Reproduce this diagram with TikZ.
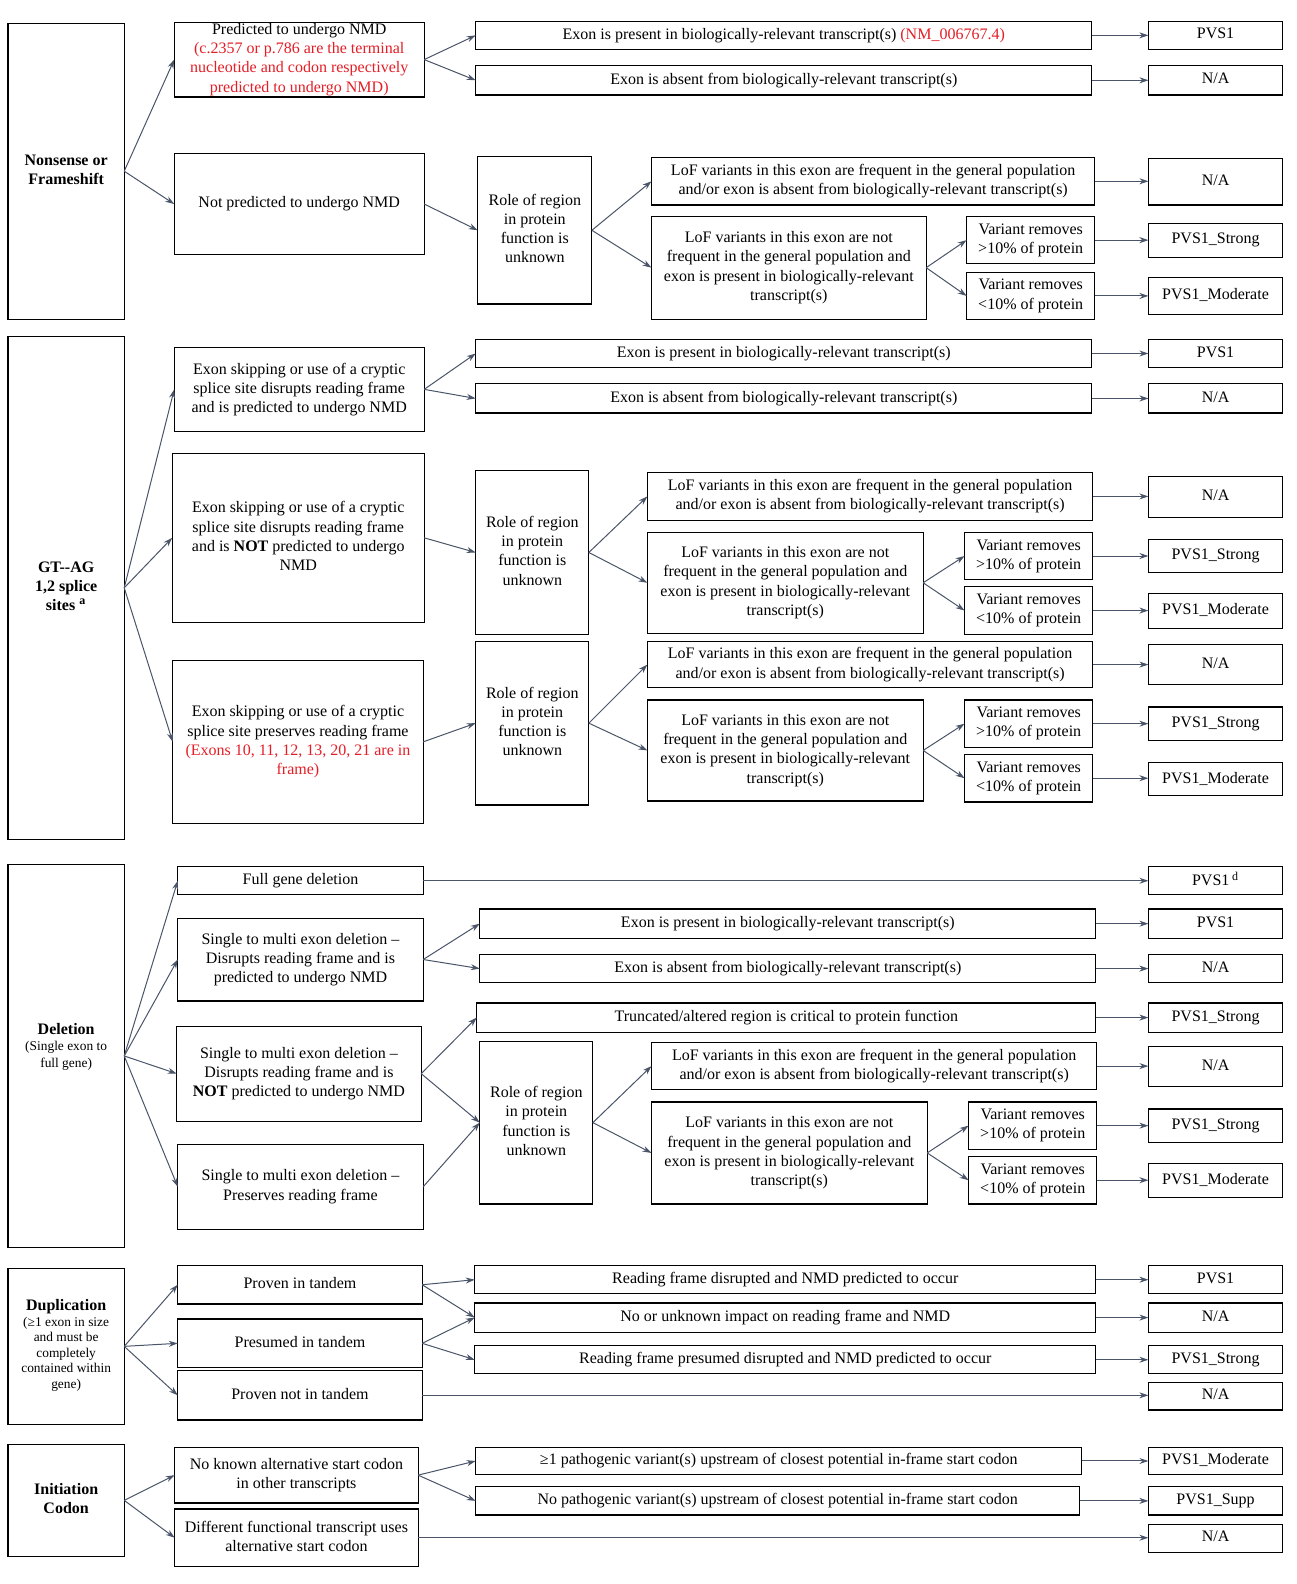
\documentclass[tikz,border=0pt]{standalone}
\usepackage{fontspec}
\setmainfont{Liberation Serif}
\usetikzlibrary{arrows.meta,calc}
\definecolor{arrowcol}{RGB}{75,85,105}
\definecolor{redtxt}{RGB}{228,30,38}
\newcommand\rt[1]{\textcolor{redtxt}{#1}}
\newcommand\mystrut{\rule[-0.22em]{0pt}{0.89em}}
\newcommand\mkbox[7][]{%
  \pgfmathsetmacro\bxw{(#5-#3)*0.505}%
  \pgfmathsetmacro\bxh{(#6-#4)*0.505}%
  \node[box,minimum width=\bxw pt,minimum height=\bxh pt,#1] (#2) at ({(#3+#5)/2},{(#4+#6)/2}) {\mystrut#7\mystrut};}
\begin{document}
\begin{tikzpicture}[x=0.505pt,y=-0.505pt,
  box/.style={draw=black,line width=0.6pt,inner sep=0pt,outer sep=0pt,align=center,font=\fontsize{8}{9.6}\selectfont},
  headbox/.style={font=\bfseries\fontsize{8}{9.6}\selectfont},
  lbl/.style={inner sep=0pt,align=center},
  conn/.style={draw=arrowcol,line width=0.5pt,-{Stealth[length=4.5pt,width=3pt]}}]
\fill[white] (0,0) rectangle (1283.2,1568.3);
\useasboundingbox (0,0) rectangle (1283.2,1568.3);
% ---------------- Section 1
\mkbox[headbox]{s1}{8}{23}{123}{316}{Nonsense or\\Frameshift}
\mkbox{b1}{172.5}{22}{420}{96}{Predicted to undergo NMD\\\rt{(c.2357 or p.786 are the terminal}\\\rt{nucleotide and codon respectively}\\\rt{predicted to undergo NMD)}}
\mkbox{b2}{172.5}{152}{420}{252}{Not predicted to undergo NMD}
\mkbox{c1}{471}{21}{1081}{49}{Exon is present in biologically-relevant transcript(s) \rt{(NM\_006767.4)}}
\mkbox{c2}{471}{65}{1081}{94}{Exon is absent from biologically-relevant transcript(s)}
\mkbox{p1a}{1137}{21}{1270}{49}{PVS1}
\mkbox{p1b}{1137}{65}{1270}{94}{N/A}
\mkbox{r1}{473}{155}{586}{301}{Role of region\\in protein\\function is\\unknown}
\mkbox{l1f}{645}{156}{1084}{203}{LoF variants in this exon are frequent in the general population\\and/or exon is absent from biologically-relevant transcript(s)}
\mkbox{l1n}{645}{214}{917}{316}{LoF variants in this exon are not\\frequent in the general population and\\exon is present in biologically-relevant\\transcript(s)}
\mkbox{v1a}{957}{214.5}{1084}{261}{Variant removes\\>10\% of protein}
\mkbox{v1b}{957}{270}{1084}{316}{Variant removes\\<10\% of protein}
\mkbox{p1c}{1137}{157}{1270}{203}{N/A}
\mkbox{p1d}{1137}{221}{1270}{255}{PVS1\_Strong}
\mkbox{p1e}{1137}{275}{1270}{311}{PVS1\_Moderate}
% ---------------- Section 2
\mkbox[headbox]{s2}{8}{333}{123}{831}{GT-{}-AG\\1,2 splice\\sites \textsuperscript{a}}
\mkbox{d1}{172.5}{344}{420}{427}{Exon skipping or use of a cryptic\\splice site disrupts reading frame\\and is predicted to undergo NMD}
\mkbox{d2}{170.5}{449}{420}{616}{Exon skipping or use of a cryptic\\splice site disrupts reading frame\\and is \textbf{NOT} predicted to undergo\\NMD}
\mkbox{d3}{171}{654}{419}{815}{Exon skipping or use of a cryptic\\splice site preserves reading frame\\\rt{(Exons 10, 11, 12, 13, 20, 21 are in}\\\rt{frame)}}
\mkbox{e1}{471}{336}{1081}{364}{Exon is present in biologically-relevant transcript(s)}
\mkbox{e1p}{1137}{336}{1270}{364}{PVS1}
\mkbox{e2}{471}{380}{1081}{409}{Exon is absent from biologically-relevant transcript(s)}
\mkbox{e2p}{1137}{380}{1270}{409}{N/A}
\mkbox{r2}{471}{466}{583}{628}{Role of region\\in protein\\function is\\unknown}
\mkbox{l2f}{641}{468}{1082}{515}{LoF variants in this exon are frequent in the general population\\and/or exon is absent from biologically-relevant transcript(s)}
\mkbox{l2fp}{1137}{472}{1270}{512}{N/A}
\mkbox{l2n}{641}{527}{914}{627}{LoF variants in this exon are not\\frequent in the general population and\\exon is present in biologically-relevant\\transcript(s)}
\mkbox{v2a}{955}{527}{1082}{574}{Variant removes\\>10\% of protein}
\mkbox{v2b}{955}{581}{1082}{628}{Variant removes\\<10\% of protein}
\mkbox{v2ap}{1137}{534}{1270}{567}{PVS1\_Strong}
\mkbox{v2bp}{1137}{588}{1270}{622}{PVS1\_Moderate}
\mkbox{r3}{471}{635}{583}{797}{Role of region\\in protein\\function is\\unknown}
\mkbox{l3f}{641}{635}{1082}{681}{LoF variants in this exon are frequent in the general population\\and/or exon is absent from biologically-relevant transcript(s)}
\mkbox{l3fp}{1137}{638}{1270}{678}{N/A}
\mkbox{l3n}{641}{693}{914}{793}{LoF variants in this exon are not\\frequent in the general population and\\exon is present in biologically-relevant\\transcript(s)}
\mkbox{v3a}{955}{693}{1082}{740}{Variant removes\\>10\% of protein}
\mkbox{v3b}{955}{747}{1082}{794}{Variant removes\\<10\% of protein}
\mkbox{v3ap}{1137}{700}{1270}{733}{PVS1\_Strong}
\mkbox{v3bp}{1137}{755}{1270}{788}{PVS1\_Moderate}
% ---------------- Section 3
\mkbox{s3}{8}{856}{123}{1235}{}
\node[lbl,font=\fontsize{6.7}{8.3}\selectfont] (s3t) at ([yshift=4.6pt]s3.center) {{\bfseries\fontsize{8}{8.3}\selectfont Deletion}\\(Single exon to\\full gene)};
\mkbox{f1}{176}{858}{419}{886}{Full gene deletion}
\mkbox{f2}{176}{909}{419}{991}{Single to multi exon deletion --\\Disrupts reading frame and is\\predicted to undergo NMD}
\mkbox{f3}{175}{1016}{417}{1110}{Single to multi exon deletion --\\Disrupts reading frame and is\\\textbf{NOT} predicted to undergo NMD}
\mkbox{f4}{176}{1133}{419}{1217}{Single to multi exon deletion --\\Preserves reading frame}
\mkbox{f1p}{1137}{858}{1270}{886}{PVS1\,\textsuperscript{d}}
\mkbox{g1}{475}{900}{1085}{929}{Exon is present in biologically-relevant transcript(s)}
\mkbox{g1p}{1137}{900}{1270}{929}{PVS1}
\mkbox{g2}{475}{945}{1085}{973}{Exon is absent from biologically-relevant transcript(s)}
\mkbox{g2p}{1137}{945}{1270}{973}{N/A}
\mkbox{g3}{472}{993}{1085}{1022}{Truncated/altered region is critical to protein function}
\mkbox{g3p}{1137}{993}{1270}{1022}{PVS1\_Strong}
\mkbox{r4}{475}{1031}{587}{1192}{Role of region\\in protein\\function is\\unknown}
\mkbox{l4f}{645}{1032}{1086}{1079}{LoF variants in this exon are frequent in the general population\\and/or exon is absent from biologically-relevant transcript(s)}
\mkbox{l4fp}{1137}{1036}{1270}{1076}{N/A}
\mkbox{l4n}{645}{1091}{918}{1192}{LoF variants in this exon are not\\frequent in the general population and\\exon is present in biologically-relevant\\transcript(s)}
\mkbox{v4a}{959}{1091}{1086}{1138}{Variant removes\\>10\% of protein}
\mkbox{v4b}{959}{1145}{1086}{1192}{Variant removes\\<10\% of protein}
\mkbox{v4ap}{1137}{1098}{1270}{1131}{PVS1\_Strong}
\mkbox{v4bp}{1137}{1152}{1270}{1186}{PVS1\_Moderate}
% ---------------- Section 4
\mkbox{s4}{8}{1256}{123}{1410}{}
\node[lbl,font=\fontsize{6.7}{7.8}\selectfont] (s4t) at ([yshift=0.5pt]s4.center) {{\bfseries\fontsize{8}{8.6}\selectfont Duplication}\\(≥1 exon in size\\and must be\\completely\\contained within\\gene)};
\mkbox{h1}{176}{1253}{418}{1291}{Proven in tandem}
\mkbox{h2}{176}{1306}{418}{1354}{Presumed in tandem}
\mkbox{h3}{176}{1357}{418}{1406}{Proven not in tandem}
\mkbox{i1}{470}{1253}{1085}{1281}{Reading frame disrupted and NMD predicted to occur}
\mkbox{i1p}{1137}{1253}{1270}{1281}{PVS1}
\mkbox{i2}{470}{1290}{1085}{1319}{No or unknown impact on reading frame and NMD}
\mkbox{i2p}{1137}{1290}{1270}{1319}{N/A}
\mkbox{i3}{470}{1332.5}{1085}{1360}{Reading frame presumed disrupted and NMD predicted to occur}
\mkbox{i3p}{1137}{1332.5}{1270}{1360}{PVS1\_Strong}
\mkbox{h3p}{1137}{1369}{1270}{1396}{N/A}
% ---------------- Section 5
\mkbox[headbox]{s5}{8}{1430}{123}{1541}{Initiation\\Codon}
\mkbox{j1}{173}{1433}{414}{1488}{No known alternative start codon\\in other transcripts}
\mkbox{j2}{173}{1494}{414}{1551}{Different functional transcript uses\\alternative start codon}
\mkbox{k1}{471}{1433}{1071}{1460}{≥1 pathogenic variant(s) upstream of closest potential in-frame start codon}
\mkbox{k1p}{1137}{1433}{1270}{1460}{PVS1\_Moderate}
\mkbox{k2}{471}{1472}{1069}{1500}{No pathogenic variant(s) upstream of closest potential in-frame start codon}
\mkbox{k2p}{1137}{1472}{1270}{1500}{PVS1\_Supp}
\mkbox{j2p}{1137}{1509}{1270}{1537}{N/A}
% ---------------- Connectors
\foreach \a/\b in {s1/b1,s1/b2,b1/c1,b1/c2,b2/r1,r1/l1f,r1/l1n,l1n/v1a,l1n/v1b,
  s2/d1,s2/d2,s2/d3,d1/e1,d1/e2,d2/r2,d3/r3,r2/l2f,r2/l2n,l2n/v2a,l2n/v2b,r3/l3f,r3/l3n,l3n/v3a,l3n/v3b,
  s3/f1,s3/f2,s3/f3,s3/f4,f2/g1,f2/g2,f3/g3,f3/r4,f4/r4,r4/l4f,r4/l4n,l4n/v4a,l4n/v4b,
  s4/h1,s4/h2,s4/h3,h1/i1,h1/i2,h2/i2,h2/i3,
  s5/j1,s5/j2,j1/k1,j1/k2}
  \draw[conn] (\a.east) -- (\b.west);
\foreach \a/\b in {c1/p1a,c2/p1b,l1f/p1c,v1a/p1d,v1b/p1e,
  e1/e1p,e2/e2p,l2f/l2fp,v2a/v2ap,v2b/v2bp,l3f/l3fp,v3a/v3ap,v3b/v3bp,
  f1/f1p,g1/g1p,g2/g2p,g3/g3p,l4f/l4fp,v4a/v4ap,v4b/v4bp,
  i1/i1p,i2/i2p,i3/i3p,h3/h3p,k1/k1p,k2/k2p,j2/j2p}
  \draw[conn] (\a.east) -- (\a.east -| \b.west);
\end{tikzpicture}
\end{document}
